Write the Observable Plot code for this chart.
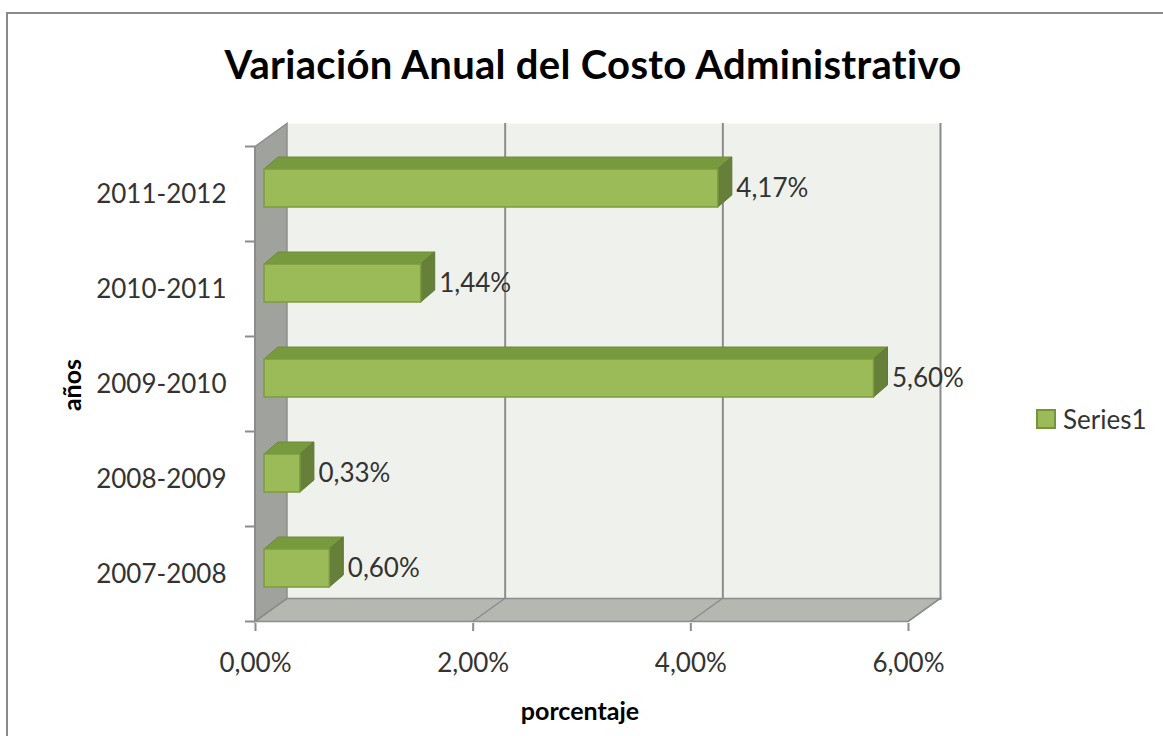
<!DOCTYPE html>
<html>
<head>
<meta charset="utf-8">
<script src="https://cdn.jsdelivr.net/npm/d3@7"></script>
<script src="https://cdn.jsdelivr.net/npm/@observablehq/plot@0.6"></script>
<style>
  html, body { margin: 0; padding: 0; background: #fff; }
  #wrap { position: relative; width: 1163px; height: 736px; overflow: hidden; font-family: Lato, "Open Sans", sans-serif; }
  #border { position: absolute; left: 6px; top: 12px; width: 1170px; height: 740px; border: 2px solid #8a8a8a; box-sizing: border-box; }
  #chart { position: absolute; left: 0; top: 0; }
  .ov { position: absolute; white-space: nowrap; color: #000; }
  #title { left: 0; width: 1186px; top: 42px; text-align: center; font-size: 40px; font-weight: bold; line-height: 44px; letter-spacing: 0.3px; }
  #ytitle { left: 71px; top: 385px; transform: translate(-50%, -50%) rotate(-90deg); font-size: 25px; font-weight: bold; }
  #xtitle { left: 580px; top: 710px; transform: translate(-50%, -50%); font-size: 25px; font-weight: bold; }
  #legend { left: 1036px; top: 403px; font-size: 26px; color: #333; display: flex; align-items: center; }
  #legend .sw { width: 16px; height: 16px; background: #9bbb59; border: 2px solid #76923c; margin-right: 7px; }
</style>
</head>
<body>
<div id="wrap">
  <div id="border"></div>
  <div id="chart"></div>
  <div class="ov" id="title">Variación Anual del Costo Administrativo</div>
  <div class="ov" id="ytitle">años</div>
  <div class="ov" id="xtitle">porcentaje</div>
  <div class="ov" id="legend"><span class="sw"></span><span id="legendLabel"></span></div>
</div>
<script>
// ---- data ----
const categories = ["2011-2012", "2010-2011", "2009-2010", "2008-2009", "2007-2008"];
const values = [4.17, 1.44, 5.60, 0.33, 0.60];
const seriesName = "Series1";
const xTicks = [0, 2, 4, 6];

const data = categories.map((c, i) => ({ cat: c, v: values[i] }));
const fmt = d => d.toFixed(2).replace(".", ",") + "%";
document.getElementById("legendLabel").textContent = seriesName;

// 3D geometry (pixels)
const DX = 32, DY = -23;          // depth of the plot box
const BDX = 14, BDY = -12;        // depth of a bar
const BOX = 9, BOY = -6;          // bar offset inside the box

const font = "Lato, 'Open Sans', sans-serif";

const plot = Plot.plot({
  width: 1163,
  height: 736,
  marginLeft: 255,
  marginRight: 255,
  marginTop: 146,
  marginBottom: 113,
  style: { fontFamily: font, fontSize: "26px", color: "#333", background: "transparent" },
  x: { domain: [0, 6], ticks: xTicks, tickFormat: fmt, label: null },
  y: { domain: categories, paddingInner: 0.6, paddingOuter: 0.3, label: null },
  marks: [
    // back wall
    Plot.frame({ fill: "#eff2ec", stroke: null, dx: DX, dy: DY }),
    // back gridlines
    Plot.ruleX(xTicks.slice(1), { stroke: "#8c8c8c", strokeWidth: 2, dx: DX, dy: DY }),
    // front faces of bars
    Plot.barX(data, { x1: 0, x2: "v", y: "cat", fill: "#9bbb59", stroke: "#7d9c3e", strokeWidth: 1.5, dx: BOX, dy: BOY, className: "front" }),
    // value labels
    Plot.text(data, { x: "v", y: "cat", text: d => fmt(d.v), textAnchor: "start", dx: BOX + BDX + 4, dy: BOY, fill: "#333", fontSize: 26 }),
    Plot.axisX({ ticks: xTicks, tickFormat: fmt, tickSize: 8, tickPadding: 22, stroke: "#8c8c8c", strokeWidth: 2, fill: "#333", fontSize: 26 }),
    Plot.axisY({ tickSize: 0, tickPadding: 29, fill: "#333", fontSize: 26 })
  ]
});
document.getElementById("chart").appendChild(plot);

// ---- 3D decoration drawn with the plot's own scales ----
const xs = plot.scale("x"), ys = plot.scale("y");
const X = v => xs.apply(v);
const Y = c => ys.apply(c);
const bw = ys.bandwidth, step = ys.step;
const svg = d3.select(plot);
const yTop = Y(categories[0]) - 0.3 * step;
const yBot = Y(categories[categories.length - 1]) + bw + 0.3 * step;
const x0 = X(0), x6 = X(6);

// insert a group right before the bar faces
const frontGroup = svg.select("g[aria-label='bar']").node();
const deco = d3.select(plot.insertBefore(document.createElementNS("http://www.w3.org/2000/svg", "g"), frontGroup));
const pts = a => a.map(p => p.join(",")).join(" ");

// left wall
deco.append("polygon")
  .attr("points", pts([[x0, yTop], [x0 + DX, yTop + DY], [x0 + DX, yBot + DY], [x0, yBot]]))
  .attr("fill", "#a0a29d").attr("stroke", "#8c8c8c").attr("stroke-width", 1.5);
// floor
deco.append("polygon")
  .attr("points", pts([[x0, yBot], [x6, yBot], [x6 + DX, yBot + DY], [x0 + DX, yBot + DY]]))
  .attr("fill", "#b5b8b1").attr("stroke", "#8c8c8c").attr("stroke-width", 1.5);
// floor depth lines at the ticks
xTicks.forEach(t => {
  deco.append("line")
    .attr("x1", X(t)).attr("y1", yBot).attr("x2", X(t) + DX).attr("y2", yBot + DY)
    .attr("stroke", "#8c8c8c").attr("stroke-width", 1.5);
});
// y-axis ticks at category boundaries
for (let k = 0; k <= categories.length; k++) {
  const yy = yTop + k * step;
  deco.append("line").attr("x1", x0 - 10).attr("x2", x0).attr("y1", yy).attr("y2", yy)
    .attr("stroke", "#8c8c8c").attr("stroke-width", 2);
}
// left axis line
deco.append("line").attr("x1", x0).attr("x2", x0).attr("y1", yTop).attr("y2", yBot)
  .attr("stroke", "#8c8c8c").attr("stroke-width", 2);

// bar top and side faces
data.forEach(d => {
  const a = X(0) + BOX, b = X(d.v) + BOX;
  const t = Y(d.cat) + BOY, u = t + bw;
  deco.append("polygon")
    .attr("points", pts([[a, t], [b, t], [b + BDX, t + BDY], [a + BDX, t + BDY]]))
    .attr("fill", "#789a3e").attr("stroke", "#6f8c38").attr("stroke-width", 1);
  deco.append("polygon")
    .attr("points", pts([[b, t], [b + BDX, t + BDY], [b + BDX, u + BDY], [b, u]]))
    .attr("fill", "#66803a").attr("stroke", "#5f7834").attr("stroke-width", 1);
});
</script>
</body>
</html>
